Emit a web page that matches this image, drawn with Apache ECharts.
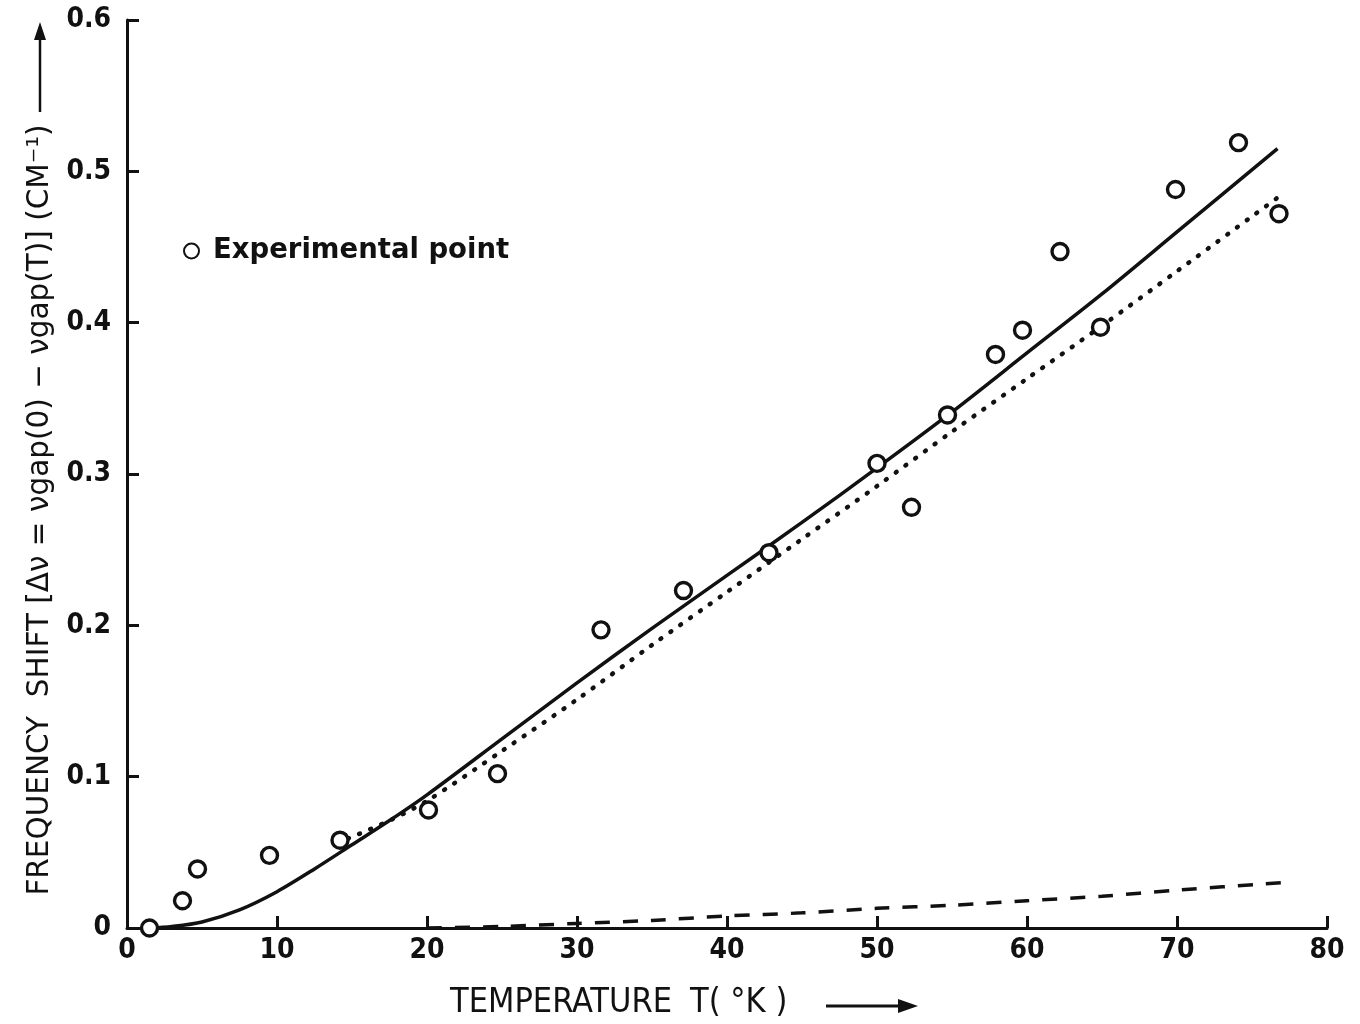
<!DOCTYPE html>
<html>
<head>
<meta charset="utf-8">
<script src="https://cdn.jsdelivr.net/npm/echarts@6/dist/echarts.min.js"></script>
<style>
html,body{margin:0;padding:0;background:#fff;}
#chart{width:1360px;height:1024px;}
</style>
</head>
<body>
<div id="chart"></div>
<script>
// Experimental points: [T (K), frequency shift (cm^-1)]
const expT = [1.5, 3.7, 4.7, 9.5, 14.2, 20.1, 24.7, 31.6, 37.1, 42.8, 50.0, 52.3, 54.7, 57.9, 59.7, 62.2, 64.9, 69.9, 74.1, 76.8];
const expShift = [0.0, 0.018, 0.039, 0.048, 0.058, 0.078, 0.102, 0.197, 0.223, 0.248, 0.307, 0.278, 0.339, 0.379, 0.395, 0.447, 0.397, 0.488, 0.519, 0.472];

// Solid theoretical curve
const solidT = [1.5, 3, 5, 7.5, 10, 12.5, 15, 17.5, 20, 25, 30, 35, 40, 45, 50, 55, 60, 65, 70, 76.7];
const solidShift = [0.0, 0.001, 0.004, 0.012, 0.024, 0.039, 0.055, 0.071, 0.088, 0.125, 0.162, 0.198, 0.233, 0.268, 0.304, 0.341, 0.380, 0.419, 0.460, 0.515];

// Dotted curve
const dotT = [14, 17.5, 20, 25, 30, 35, 40, 45, 50, 55, 60, 65, 70, 76.9];
const dotShift = [0.056, 0.071, 0.084, 0.117, 0.151, 0.187, 0.222, 0.257, 0.292, 0.328, 0.363, 0.398, 0.434, 0.484];

// Dashed curve
const dashT = [20, 25, 30, 35, 40, 45, 50, 55, 60, 65, 70, 77];
const dashShift = [0.0, 0.001, 0.003, 0.005, 0.008, 0.010, 0.013, 0.015, 0.018, 0.021, 0.025, 0.030];

const xTicks = [0, 10, 20, 30, 40, 50, 60, 70, 80];
const yTicks = ['0', '0.1', '0.2', '0.3', '0.4', '0.5', '0.6'];

const zip = (a, b) => a.map((v, i) => [v, b[i]]);
const FONT = '"DejaVu Sans Condensed", "DejaVu Sans", sans-serif';
const FONT_WIDE = '"DejaVu Sans", sans-serif';

const chart = echarts.init(document.getElementById('chart'));
chart.setOption({
  animation: false,
  backgroundColor: '#fff',
  grid: {left: 127, right: 33, top: 20, bottom: 96, containLabel: false},
  legend: {
    data: [{name: 'Experimental point', icon: 'circle'}],
    left: 178, top: 232,
    itemWidth: 15, itemHeight: 15, itemGap: 10,
    textStyle: {fontFamily: FONT_WIDE, fontSize: 27.5, fontWeight: 'bold', color: '#111', padding: [0, 0, 0, 9]}
  },
  xAxis: {
    type: 'value', min: 0, max: 80, interval: 10,
    axisLine: {show: true, lineStyle: {color: '#111', width: 3}},
    axisTick: {show: true, inside: true, length: 12, lineStyle: {color: '#111', width: 3}},
    axisLabel: {
      margin: 9, color: '#111', fontFamily: FONT, fontSize: 28, fontWeight: 'bold',
      formatter: v => xTicks.includes(v) ? String(v) : ''
    },
    splitLine: {show: false}
  },
  yAxis: {
    type: 'value', min: 0, max: 0.6, interval: 0.1,
    axisLine: {show: true, lineStyle: {color: '#111', width: 3}},
    axisTick: {show: true, inside: true, length: 12, lineStyle: {color: '#111', width: 3}},
    axisLabel: {
      margin: 16, color: '#111', fontFamily: FONT, fontSize: 28, fontWeight: 'bold',
      formatter: v => yTicks[Math.round(v * 10)]
    },
    splitLine: {show: false}
  },
  series: [
    {
      name: 'Solid', type: 'line', data: zip(solidT, solidShift), smooth: 0.3,
      showSymbol: false, lineStyle: {color: '#111', width: 3.5}, z: 2
    },
    {
      name: 'Dotted', type: 'line', data: zip(dotT, dotShift), smooth: 0.3,
      showSymbol: false, lineStyle: {color: '#111', width: 4.5, type: [1, 11], cap: 'round'}, z: 2
    },
    {
      name: 'Dashed', type: 'line', data: zip(dashT, dashShift), smooth: 0.3,
      showSymbol: false, lineStyle: {color: '#111', width: 3.5, type: [15, 13]}, z: 2
    },
    {
      name: 'Experimental point', type: 'scatter', data: zip(expT, expShift),
      symbol: 'circle', symbolSize: 16,
      itemStyle: {color: '#fff', borderColor: '#111', borderWidth: 3.4, opacity: 1}, z: 5
    }
  ],
  graphic: [
    {
      type: 'text', x: 40, y: 510, rotation: Math.PI / 2,
      style: {
        text: 'FREQUENCY  SHIFT [Δν = νgap(0) − νgap(T)] (CM⁻¹)',
        fontFamily: FONT_WIDE, fontSize: 29.5, fill: '#111',
        align: 'center', verticalAlign: 'middle'
      }
    },
    // y-title arrow
    {type: 'line', shape: {x1: 40, y1: 112, x2: 40, y2: 36}, style: {stroke: '#111', lineWidth: 2.5}},
    {type: 'polygon', shape: {points: [[40, 22], [34, 40], [46, 40]]}, style: {fill: '#111'}},
    {
      type: 'text', x: 450, y: 1003,
      style: {
        text: 'TEMPERATURE',
        fontFamily: FONT, fontSize: 34, fill: '#111',
        align: 'left', verticalAlign: 'middle'
      }
    },
    {
      type: 'text', x: 690, y: 1003,
      style: {
        text: 'T( °K )',
        fontFamily: FONT, fontSize: 34, fill: '#111',
        align: 'left', verticalAlign: 'middle'
      }
    },
    // x-title arrow
    {type: 'line', shape: {x1: 826, y1: 1006, x2: 900, y2: 1006}, style: {stroke: '#111', lineWidth: 3}},
    {type: 'polygon', shape: {points: [[918, 1006], [898, 999], [898, 1013]]}, style: {fill: '#111'}}
  ]
});
</script>
</body>
</html>
